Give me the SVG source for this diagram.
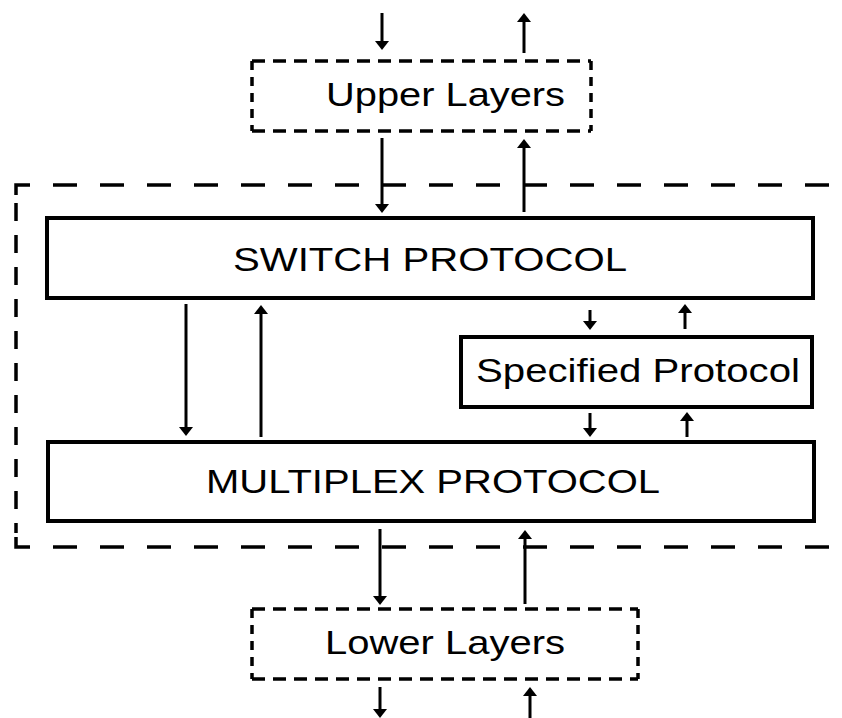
<svg xmlns="http://www.w3.org/2000/svg" width="842" height="718" viewBox="0 0 842 718">
  <style>
    .box { fill: #ffffff; stroke: #000000; stroke-width: 4; }
    .edge { fill: none; stroke: #000000; stroke-width: 3.5; }
    .outer-h { stroke-dasharray: 24 23; }
    .outer-v { stroke-dasharray: 18 14; }
    .layer-h { stroke-dasharray: 13 8; }
    .layer-v { stroke-dasharray: 9 7; }
    .arrow { stroke: #000000; stroke-width: 3; fill: none; marker-end: url(#head); }
    .label { font-family: "Liberation Sans", Arial, sans-serif; font-size: 33px; fill: #000000; }
  </style>
  <defs>
    <marker id="head" viewBox="0 -7 9 14" refX="3" refY="0" markerWidth="9" markerHeight="14" markerUnits="userSpaceOnUse" orient="auto">
      <path d="M0,-7 L9,0 L0,7 Z" fill="#000000"/>
    </marker>
  </defs>

  <rect width="842" height="718" fill="#ffffff"/>

  <!-- Outer dashed boundary (open on the right) -->
  <g id="outer-boundary">
    <path class="edge" d="M16,195 V185 H30"/>
    <line class="edge outer-h" x1="53" y1="185" x2="842" y2="185"/>
    <line class="edge outer-v" x1="16" y1="203" x2="16" y2="533"/>
    <path class="edge" d="M16,537 V547 H30"/>
    <line class="edge outer-h" x1="53" y1="547" x2="842" y2="547"/>
  </g>

  <!-- Upper Layers (dashed) -->
  <g id="upper-layers">
    <line class="edge layer-h" x1="252" y1="61" x2="591" y2="61"/>
    <line class="edge layer-h" x1="252" y1="131" x2="591" y2="131"/>
    <line class="edge layer-v" x1="252" y1="61" x2="252" y2="131"/>
    <line class="edge layer-v" x1="591" y1="61" x2="591" y2="131"/>
    <text class="label" x="326" y="106" textLength="239" lengthAdjust="spacingAndGlyphs">Upper Layers</text>
  </g>

  <!-- Switch protocol -->
  <g id="switch-protocol">
    <rect class="box" x="47" y="218" width="766" height="80"/>
    <text class="label" x="233" y="271" textLength="394" lengthAdjust="spacingAndGlyphs">SWITCH PROTOCOL</text>
  </g>

  <!-- Specified protocol -->
  <g id="specified-protocol">
    <rect class="box" x="461" y="337" width="351" height="70"/>
    <text class="label" x="476" y="382" textLength="324" lengthAdjust="spacingAndGlyphs">Specified Protocol</text>
  </g>

  <!-- Multiplex protocol -->
  <g id="multiplex-protocol">
    <rect class="box" x="48" y="442" width="766" height="79"/>
    <text class="label" x="206" y="493" textLength="454" lengthAdjust="spacingAndGlyphs">MULTIPLEX PROTOCOL</text>
  </g>

  <!-- Lower Layers (dashed) -->
  <g id="lower-layers">
    <line class="edge layer-h" x1="252" y1="609" x2="638" y2="609"/>
    <line class="edge layer-h" x1="252" y1="679" x2="638" y2="679"/>
    <line class="edge layer-v" x1="252" y1="609" x2="252" y2="679"/>
    <line class="edge layer-v" x1="638" y1="609" x2="638" y2="679"/>
    <text class="label" x="325" y="654" textLength="240" lengthAdjust="spacingAndGlyphs">Lower Layers</text>
  </g>

  <!-- Connectors -->
  <g id="connectors">
    <line class="arrow" x1="382" y1="13" x2="382" y2="44"/>
    <line class="arrow" x1="524" y1="53" x2="524" y2="19"/>
    <line class="arrow" x1="382" y1="138" x2="382" y2="207"/>
    <line class="arrow" x1="524" y1="212" x2="524" y2="145"/>
    <line class="arrow" x1="186" y1="304" x2="186" y2="430"/>
    <line class="arrow" x1="261" y1="437" x2="261" y2="311"/>
    <line class="arrow" x1="590" y1="310" x2="590" y2="324"/>
    <line class="arrow" x1="685" y1="329" x2="685" y2="310"/>
    <line class="arrow" x1="590" y1="413" x2="590" y2="431"/>
    <line class="arrow" x1="687" y1="437" x2="687" y2="418"/>
    <line class="arrow" x1="380" y1="529" x2="380" y2="599"/>
    <line class="arrow" x1="525" y1="604" x2="525" y2="536"/>
    <line class="arrow" x1="380" y1="687" x2="380" y2="712"/>
    <line class="arrow" x1="530" y1="718" x2="530" y2="693"/>
  </g>
</svg>
